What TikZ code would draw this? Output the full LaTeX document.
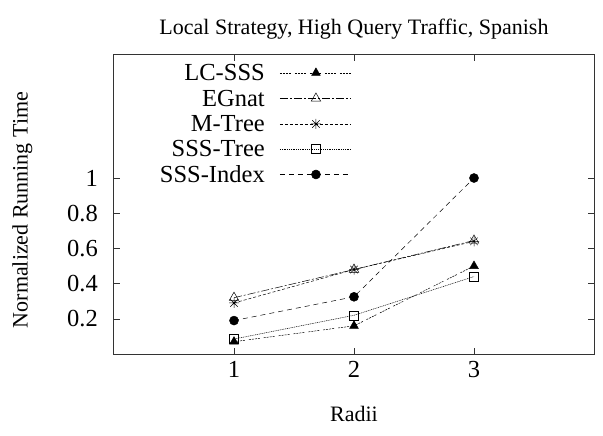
\documentclass[tikz,border=0pt]{standalone}
\usepackage{fontspec}
\setmainfont{Liberation Serif}
\usetikzlibrary{plotmarks}

\pgfdeclareplotmark{gpstar}{%
 \pgfpathmoveto{\pgfqpoint{-\pgfplotmarksize}{0pt}}%
 \pgfpathlineto{\pgfqpoint{\pgfplotmarksize}{0pt}}%
 \pgfpathmoveto{\pgfqpoint{0pt}{-\pgfplotmarksize}}%
 \pgfpathlineto{\pgfqpoint{0pt}{\pgfplotmarksize}}%
 \pgfpathmoveto{\pgfqpoint{-.75\pgfplotmarksize}{-.75\pgfplotmarksize}}%
 \pgfpathlineto{\pgfqpoint{.75\pgfplotmarksize}{.75\pgfplotmarksize}}%
 \pgfpathmoveto{\pgfqpoint{-.75\pgfplotmarksize}{.75\pgfplotmarksize}}%
 \pgfpathlineto{\pgfqpoint{.75\pgfplotmarksize}{-.75\pgfplotmarksize}}%
 \pgfusepathqstroke}

\begin{document}
\begin{tikzpicture}[x=120pt,y=176pt,
 txt/.style={font=\fontsize{22}{26}\selectfont,inner sep=0pt},
 bigtxt/.style={font=\fontsize{24.5}{29}\selectfont,inner sep=0pt},
 frame/.style={line width=1pt,black!80},
 series/.style={line width=0.5pt,black,mark options={solid,fill=black}},
 lcsss/.style={series,dash pattern=on 2pt off 1pt on 2pt off 1pt on 2pt off 1pt on 2pt off 4pt,mark=triangle*,mark size=5pt},
 egnat/.style={series,dash pattern=on 8pt off 2pt on 2pt off 2pt,mark=triangle,mark size=5.5pt,mark options={solid,fill=white}},
 mtree/.style={series,dash pattern=on 3pt off 2pt,mark=gpstar,mark size=5pt},
 ssstree/.style={series,dash pattern=on 1pt off 0.8pt,mark=square,mark size=4.5pt,mark options={solid,fill=white}},
 sssindex/.style={series,dash pattern=on 5pt off 4pt,mark=*,mark size=4.5pt}]
 \useasboundingbox (-0.95,-0.4602) rectangle (4.075,2.0114);

 % frame and ticks
 \draw[frame] (0,0) rectangle (4,1.7);
 \foreach \x in {1,2,3} {
  \draw[frame,line width=0.6pt] (\x,0) -- ++(0,6pt);
  \draw[frame,line width=0.6pt] (\x,1.7) -- ++(0,-6pt);
  \node[bigtxt,anchor=base] (xt\x) at (\x,-0.136) {\x};
 }
 \foreach \y in {0.2,0.4,0.6,0.8,1} {
  \draw[frame,line width=0.6pt] (0,\y) -- ++(6pt,0);
  \draw[frame,line width=0.6pt] (4,\y) -- ++(-6pt,0);
  \node[bigtxt,anchor=east] (yt\y) at ([xshift=-16pt]0,\y) {\y};
 }

 % titles
 \node[txt,anchor=base] (title) at (2,1.818) {Local Strategy, High Query Traffic, Spanish};
 \node[txt,anchor=base] (xlabel) at (2,-0.381) {Radii};
 \node[txt,anchor=base,rotate=90] (ylabel) at (-0.72,0.818) {Normalized Running Time};

 % data
 \draw[lcsss] plot coordinates {(1,0.07) (2,0.16) (3,0.50)};
 \draw[egnat] plot coordinates {(1,0.32) (2,0.48) (3,0.645)};
 \draw[mtree] plot coordinates {(1,0.29) (2,0.48) (3,0.64)};
 \draw[ssstree] plot coordinates {(1,0.085) (2,0.22) (3,0.44)};
 \draw[sssindex] plot coordinates {(1,0.19) (2,0.325) (3,1.0)};

 % key
 \foreach \lab/\sty/\ky [count=\i] in {LC-SSS/lcsss/1.597,EGnat/egnat/1.452,M-Tree/mtree/1.307,SSS-Tree/ssstree/1.165,SSS-Index/sssindex/1.020} {
  \node[bigtxt,anchor=east] (key\i) at (1.258,\ky) {\lab};
  \coordinate (ka\i) at (1.383,\ky);
  \coordinate (kb\i) at (1.975,\ky);
  \draw[\sty,mark=none] (ka\i) -- (kb\i);
  \draw[\sty] plot coordinates {(1.683,\ky)};
 }
\end{tikzpicture}
\end{document}
